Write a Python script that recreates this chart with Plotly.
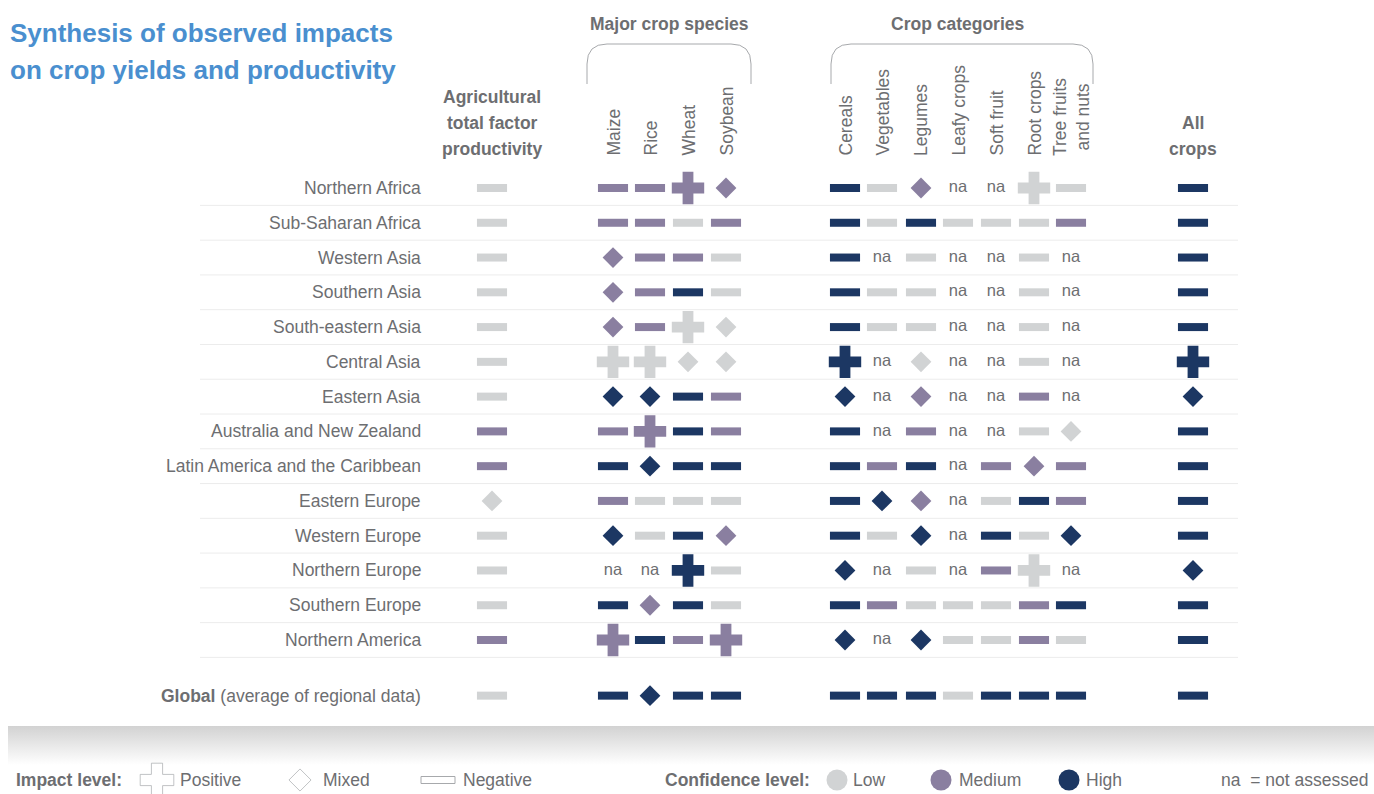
import plotly.graph_objects as go

# ---------------- data ----------------
REGIONS = [
    "Northern Africa", "Sub-Saharan Africa", "Western Asia", "Southern Asia",
    "South-eastern Asia", "Central Asia", "Eastern Asia", "Australia and New Zealand",
    "Latin America and the Caribbean", "Eastern Europe", "Western Europe",
    "Northern Europe", "Southern Europe", "Northern America",
    "<b>Global</b> (average of regional data)",
]
COLUMN_LABELS = ["Agricultural total factor productivity", "Maize", "Rice", "Wheat", "Soybean",
                 "Cereals", "Vegetables", "Legumes", "Leafy crops", "Soft fruit",
                 "Root crops", "Tree fruits<br>and nuts", "All crops"]

# codes: impact (P positive, M mixed, N negative) + confidence (L, M, H); "na" = not assessed
atfp       = ["NL", "NL", "NL", "NL", "NL", "NL", "NL", "NM", "NM", "ML", "NL", "NL", "NL", "NM", "NL"]
maize      = ["NM", "NM", "MM", "MM", "MM", "PL", "MH", "NM", "NH", "NM", "MH", "na", "NH", "PM", "NH"]
rice       = ["NM", "NM", "NM", "NM", "NM", "PL", "MH", "PM", "MH", "NL", "NL", "na", "MM", "NH", "MH"]
wheat      = ["PM", "NL", "NM", "NH", "PL", "ML", "NH", "NH", "NH", "NL", "NH", "PH", "NH", "NM", "NH"]
soybean    = ["MM", "NM", "NL", "NL", "ML", "ML", "NM", "NM", "NH", "NL", "MM", "NL", "NL", "PM", "NH"]
cereals    = ["NH", "NH", "NH", "NH", "NH", "PH", "MH", "NH", "NH", "NH", "NH", "MH", "NH", "MH", "NH"]
vegetables = ["NL", "NL", "na", "NL", "NL", "na", "na", "na", "NM", "MH", "NL", "na", "NM", "na", "NH"]
legumes    = ["MM", "NH", "NL", "NL", "NL", "ML", "MM", "NM", "NH", "MM", "MH", "NL", "NL", "MH", "NH"]
leafy      = ["na", "NL", "na", "na", "na", "na", "na", "na", "na", "na", "na", "na", "NL", "NL", "NL"]
soft_fruit = ["na", "NL", "na", "na", "na", "na", "na", "na", "NM", "NL", "NH", "NM", "NL", "NL", "NH"]
root_crops = ["PL", "NL", "NL", "NL", "NL", "NL", "NM", "NL", "MM", "NH", "NL", "PL", "NM", "NM", "NH"]
tree_fruit = ["NL", "NM", "na", "na", "na", "na", "na", "ML", "NM", "NM", "MH", "na", "NH", "NL", "NH"]
all_crops  = ["NH", "NH", "NH", "NH", "NH", "PH", "MH", "NH", "NH", "NH", "NH", "MH", "NH", "NH", "NH"]

SERIES = [atfp, maize, rice, wheat, soybean, cereals, vegetables, legumes,
          leafy, soft_fruit, root_crops, tree_fruit, all_crops]

# ---------------- layout constants ----------------
W, H = 1374, 794
COL_X = [492, 613, 650, 688, 726, 845, 882, 921, 958, 996, 1034, 1071, 1193]
ROW_TOP, ROW_STEP = 188, 34.77
ROW_SLOT = list(range(14)) + [14.6]
ROW_Y = [ROW_TOP + s * ROW_STEP for s in ROW_SLOT]

CONF_COLOR = {"L": "#d1d3d4", "M": "#8a7fa0", "H": "#1c3763"}
GREY = "#6d6e71"
BLUE = "#4a8fcf"
FONT = "Liberation Sans, Arial, Helvetica, sans-serif"
FS = 17.5

groups = {"N": ([], [], []), "M": ([], [], []), "P": ([], [], [])}
na_x, na_y = [], []
for ci, col in enumerate(SERIES):
    for ri, code in enumerate(col):
        if code == "na":
            na_x.append(COL_X[ci]); na_y.append(ROW_Y[ri])
        else:
            gx, gy, gc = groups[code[0]]
            gx.append(COL_X[ci]); gy.append(ROW_Y[ri]); gc.append(CONF_COLOR[code[1]])

fig = go.Figure()

# separator lines
shapes = []
for i in range(14):
    yy = ROW_TOP + (i + 0.5) * ROW_STEP
    shapes.append(dict(type="line", xref="x", yref="y", x0=200, x1=1238, y0=yy, y1=yy,
                       line=dict(color="#ececec", width=1), layer="below"))

# brackets
def bracket(x0, x1, ytop=44, ybot=84, r=20):
    return (f"M {x0},{ybot} L {x0},{ytop + r} Q {x0},{ytop} {x0 + r},{ytop} "
            f"L {x1 - r},{ytop} Q {x1},{ytop} {x1},{ytop + r} L {x1},{ybot}")
for bx0, bx1 in [(587, 751), (831, 1093)]:
    shapes.append(dict(type="path", xref="x", yref="y", path=bracket(bx0, bx1),
                       line=dict(color="#a7a9ac", width=1)))

# legend outline dash
shapes.append(dict(type="rect", xref="x", yref="y", x0=421, x1=455, y0=776.5, y1=783.5,
                   line=dict(color="#a7a9ac", width=1), fillcolor="white"))

# bottom gradient band
fig.add_trace(go.Scatter(
    x=[8, W, W, 8, 8], y=[726, 726, 765, 765, 726], mode="lines", fill="toself",
    line=dict(width=0), hoverinfo="skip",
    fillgradient=dict(type="vertical", start=726, stop=765,
                      colorscale=[[0, "#d2d2d2"], [1, "#ffffff"]]),
))

# marks
nx, ny, nc = groups["N"]
fig.add_trace(go.Scatter(x=nx, y=ny, mode="markers", hoverinfo="skip",
                         marker=dict(symbol="line-ew", size=21.5, color=nc,
                                     line=dict(color=nc, width=8))))
mx, my, mc = groups["M"]
fig.add_trace(go.Scatter(x=mx, y=my, mode="markers", hoverinfo="skip",
                         marker=dict(symbol="diamond", size=16, color=mc, line=dict(width=0))))
px_, py_, pc = groups["P"]
fig.add_trace(go.Scatter(x=px_, y=py_, mode="markers", hoverinfo="skip",
                         marker=dict(symbol="cross", size=27, color=pc, line=dict(width=0))))
fig.add_trace(go.Scatter(x=na_x, y=na_y, mode="text", text=["na"] * len(na_x), hoverinfo="skip",
                         textfont=dict(family=FONT, size=16.5, color=GREY)))

# legend icons
fig.add_trace(go.Scatter(x=[157, 300], y=[780, 780], mode="markers", hoverinfo="skip",
                         marker=dict(symbol=["cross-open", "diamond-open"], size=[28, 17],
                                     color="#a7a9ac", line=dict(width=1, color="#a7a9ac"))))
fig.add_trace(go.Scatter(x=[837, 941, 1069], y=[780, 780, 780], mode="markers", hoverinfo="skip",
                         marker=dict(symbol="circle", size=21,
                                     color=[CONF_COLOR["L"], CONF_COLOR["M"], CONF_COLOR["H"]],
                                     line=dict(width=0))))

ann = []
def txt(x, y, s, size=FS, color=GREY, xanchor="center", yanchor="middle", angle=0, bold=False):
    if bold:
        s = f"<b>{s}</b>"
    ann.append(dict(x=x, y=y, xref="x", yref="y", text=s, showarrow=False,
                    xanchor=xanchor, yanchor=yanchor, textangle=angle,
                    font=dict(family=FONT, size=size, color=color)))

# title
txt(8, 33, "Synthesis of observed impacts", size=26, color=BLUE, xanchor="left", bold=True)
txt(8, 70, "on crop yields and productivity", size=26, color=BLUE, xanchor="left", bold=True)

# headers
for yy, s in zip([97, 123, 149], ["Agricultural", "total factor", "productivity"]):
    txt(COL_X[0], yy, s, bold=True)
txt(669, 24, "Major crop species", bold=True)
txt(958, 24, "Crop categories", bold=True)
txt(COL_X[-1], 123, "All", bold=True)
txt(COL_X[-1], 149, "crops", bold=True)
for ci in range(1, 12):
    txt(COL_X[ci], 158, COLUMN_LABELS[ci], angle=-90, yanchor="bottom")

# row labels
for ri, name in enumerate(REGIONS):
    txt(423, ROW_Y[ri], name, xanchor="right")

# legend texts
txt(14, 780, "Impact level:", xanchor="left", bold=True)
txt(178, 780, "Positive", xanchor="left")
txt(321, 780, "Mixed", xanchor="left")
txt(461, 780, "Negative", xanchor="left")
txt(663, 780, "Confidence level:", xanchor="left", bold=True)
txt(851, 780, "Low", xanchor="left")
txt(957, 780, "Medium", xanchor="left")
txt(1084, 780, "High", xanchor="left")
txt(1219, 780, "na  = not assessed", xanchor="left")

fig.update_layout(
    width=W, height=H, margin=dict(l=0, r=0, t=0, b=0),
    paper_bgcolor="white", plot_bgcolor="white", showlegend=False,
    xaxis=dict(range=[0, W], visible=False, fixedrange=True),
    yaxis=dict(range=[H, 0], visible=False, fixedrange=True),
    shapes=shapes, annotations=ann, hovermode=False,
)
fig.write_html("out.html", config={"displayModeBar": False},
               post_script="document.body.style.margin='0px';document.body.style.overflow='hidden';")
